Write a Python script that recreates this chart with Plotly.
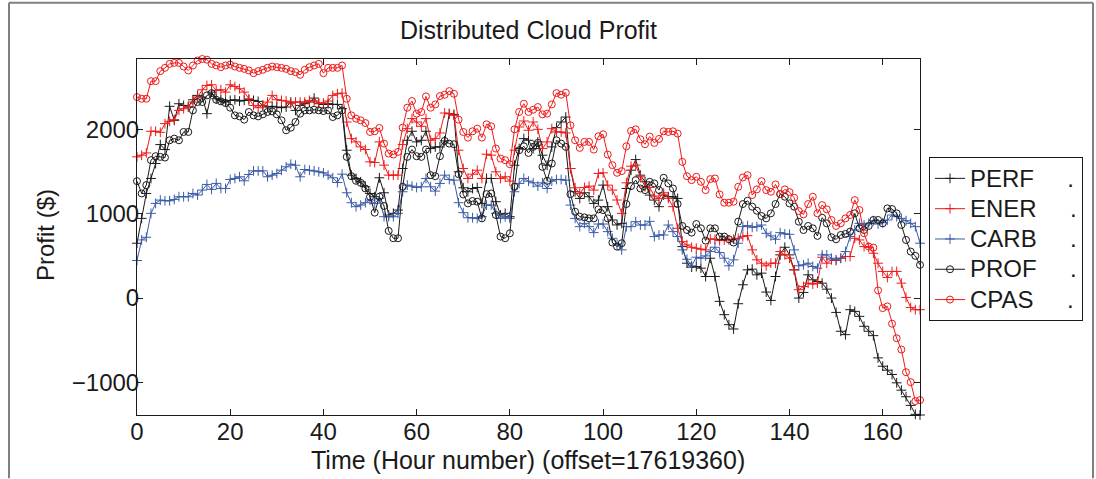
import plotly.graph_objects as go

hours = list(range(169))

perf = [651,946,1242,1420,1597,1822,1763,2276,2110,2307,
        2287,2268,2354,2406,2386,2189,2445,2366,2354,2327,
        2347,2354,2339,2347,2354,2347,2335,2287,2268,2276,
        2268,2260,2268,2327,2228,2287,2307,2327,2374,2307,
        2299,2307,2299,2299,2248,1755,1459,1420,1380,1321,
        1242,1203,1428,1250,986,1006,1045,1538,1873,1980,
        1854,1873,1980,1775,1794,1794,1866,2189,2181,1499,
        1309,1262,1301,1313,1124,1420,1420,1144,986,1006,
        966,1577,1775,1893,1873,1775,1854,1696,1577,1794,
        2023,2090,2149,1538,1262,1183,1250,1203,1124,1163,
        1341,1085,927,868,887,1301,1518,1644,1459,1380,
        1223,1163,1085,1223,1203,1203,1183,611,414,367,
        375,355,256,473,256,-39,-197,-316,-367,-67,
        158,335,343,276,296,71,-28,256,513,603,
        513,335,0,67,276,217,197,177,106,0,
        -170,-394,-434,-138,-158,-217,-335,-394,-446,-710,
        -809,-856,-907,-1006,-1093,-1171,-1274,-1380,-1388]

ener = [1676,1696,1723,1980,1980,1968,2071,2098,2118,2228,
        2248,2276,2327,2386,2473,2524,2532,2465,2473,2445,
        2532,2512,2485,2445,2366,2287,2260,2287,2327,2406,
        2355,2347,2339,2307,2327,2327,2327,2347,2339,2315,
        2315,2339,2406,2425,2433,2090,1893,1854,1795,1763,
        1617,1609,1854,1578,1459,1459,1459,1822,2011,2130,
        2090,2039,2130,1873,1893,1960,2197,2189,2169,1755,
        1538,1420,1471,1518,1420,1708,1696,1499,1420,1440,
        1388,1755,2031,2102,1992,2090,2003,1775,1854,2011,
        1972,1972,1960,1538,1309,1242,1313,1329,1282,1479,
        1487,1341,1282,1164,1006,1368,1565,1578,1440,1321,
        1313,1211,1183,1250,1183,1085,828,670,631,603,
        592,580,572,702,698,682,690,690,698,710,
        730,741,572,454,414,383,414,414,552,513,
        473,335,99,138,177,166,177,485,414,454,
        446,473,493,493,710,690,611,603,532,414,
        316,245,316,316,177,8,-111,-138,-138]

carb = [446,690,722,1006,1124,1163,1155,1155,1171,1203,
        1203,1203,1242,1223,1282,1349,1290,1361,1301,1301,
        1408,1420,1440,1392,1467,1510,1510,1510,1440,1459,
        1479,1518,1558,1589,1577,1440,1526,1518,1510,1499,
        1487,1459,1428,1372,1471,1250,1132,1085,1104,1132,
        1163,1124,1183,966,966,966,1006,1262,1341,1329,
        1313,1321,1420,1321,1270,1361,1459,1408,1400,1132,
        1014,954,954,946,966,1104,1104,1006,946,966,
        946,1262,1361,1420,1388,1368,1329,1368,1301,1388,
        1408,1408,1400,1104,946,848,887,848,777,879,
        879,789,710,639,572,848,848,907,867,867,
        911,730,749,749,867,789,730,572,461,383,
        485,473,501,552,603,540,473,383,454,651,
        848,860,840,848,867,769,738,698,777,761,
        757,572,383,394,414,375,355,513,513,473,
        454,473,552,730,808,887,867,887,919,879,
        895,927,986,966,946,919,887,848,651]

prof = [1388,1242,1341,1637,1684,1676,1668,1873,1893,1873,
        1972,1972,2228,2327,2327,2406,2433,2354,2335,2315,
        2260,2169,2157,2118,2209,2169,2157,2181,2209,2216,
        2181,2110,1992,2023,2090,2189,2228,2228,2236,2228,
        2220,2228,2149,2169,2228,1676,1447,1392,1368,1301,
        1203,1014,1203,1093,797,710,710,1321,1676,1763,
        1684,1676,1763,1459,1447,1684,1866,1834,1826,1471,
        1230,1124,1152,1144,946,1234,1242,986,730,710,
        769,1321,1755,1802,1723,1795,1842,1558,1392,1597,
        1873,1834,1795,1234,1025,966,958,946,946,1053,
        1045,946,659,611,651,1116,1329,1400,1301,1282,
        1380,1361,1282,1428,1361,1301,1116,856,808,777,
        879,828,682,828,828,730,730,698,659,907,
        1116,1155,1085,1037,974,946,1006,1116,1234,1203,
        1124,1085,907,808,856,828,738,954,887,722,
        698,749,761,789,1006,828,808,856,927,927,
        887,1065,1057,1006,868,690,552,501,394]

cpas = [2386,2366,2366,2575,2575,2694,2733,2780,2792,2792,
        2749,2702,2761,2820,2838,2830,2780,2761,2741,2761,
        2772,2749,2733,2721,2702,2670,2694,2710,2733,2749,
        2741,2733,2721,2694,2682,2650,2710,2741,2761,2780,
        2670,2733,2733,2733,2761,2366,2169,2130,2110,2078,
        1972,1980,2019,1834,1716,1704,1735,2023,2260,2339,
        2189,2209,2394,2260,2299,2398,2414,2457,2425,2118,
        1972,1905,1980,2011,1905,2063,2039,1775,1656,1637,
        1589,2003,2209,2307,2209,2236,2268,2181,2189,2299,
        2433,2414,2437,2051,1873,1783,1854,1854,1763,1921,
        1944,1704,1578,1487,1507,1802,1984,2003,1885,1826,
        1917,1842,1889,1980,1972,1980,1952,1617,1447,1400,
        1440,1380,1282,1412,1420,1230,1132,1132,1144,1321,
        1432,1459,1223,1290,1388,1282,1262,1349,1234,1290,
        1258,1191,1033,994,1116,1203,1006,1104,1053,927,
        856,887,946,986,1163,1045,769,611,599,91,
        -119,-99,-304,-477,-611,-880,-998,-1223,-1211]

names = ["PERF", "ENER", "CARB", "PROF", "CPAS"]
series = [perf, ener, carb, prof, cpas]
colors = ["#1a1a1a", "#f01a1a", "#3b5ba8", "#1a1a1a", "#f01a1a"]
symbols = ["cross-thin-open", "cross-thin-open", "cross-thin-open", "circle-open", "circle-open"]

x_ticks = [0, 20, 40, 60, 80, 100, 120, 140, 160]
y_ticks = [-1000, 0, 1000, 2000]

fig = go.Figure()
pad = "\u00a0" * 5
for name, ys, col, sym in zip(names, series, colors, symbols):
    fig.add_trace(go.Scatter(
        x=hours, y=ys, mode="lines+markers",
        name='<span style="font-size:24px">' + name + pad + ".</span>",
        line=dict(color=col, width=1),
        marker=dict(symbol=sym, size=7, color=col, line=dict(color=col, width=1)),
        cliponaxis=False,
    ))

W, H = 1096, 479
L, R, T, B = 137, 176, 58.5, 63.5
pw, ph = W - L - R, H - T - B

def px(xp):
    return (xp - L) / pw

def py(yp):
    return (H - B - yp) / ph

font = "Liberation Sans, Arial, Helvetica, sans-serif"
fig.update_layout(
    width=W, height=H,
    margin=dict(l=L, r=R, t=T, b=B),
    paper_bgcolor="white", plot_bgcolor="white",
    font=dict(family=font, size=24, color="#1a1a1a"),
    showlegend=True,
    legend=dict(
        x=px(929), y=py(157), xanchor="left", yanchor="top",
        bordercolor="#1a1a1a", borderwidth=1, bgcolor="white",
        font=dict(family=font, size=21, color="#1a1a1a"),
        itemwidth=30,
    ),
    xaxis=dict(
        range=[0, 168], tickvals=x_ticks, ticks="inside", ticklen=6,
        tickcolor="#1a1a1a", showline=True, linecolor="#1a1a1a", linewidth=1,
        mirror="ticks", showgrid=False, zeroline=False,
        tickfont=dict(size=24), ticklabelstandoff=-5,
    ),
    yaxis=dict(
        range=[-1388, 2838], tickvals=y_ticks, ticks="inside", ticklen=6,
        tickcolor="#1a1a1a", showline=True, linecolor="#1a1a1a", linewidth=1,
        mirror="ticks", showgrid=False, zeroline=False,
        tickfont=dict(size=24), ticklabelstandoff=-8,
    ),
    annotations=[
        dict(text="Distributed Cloud Profit", x=0.5, y=py(29), xref="paper", yref="paper",
             xanchor="center", yanchor="middle", showarrow=False, font=dict(size=25)),
        dict(text="Time (Hour number) (offset=17619360)", x=px(528), y=py(461), xref="paper", yref="paper",
             xanchor="center", yanchor="middle", showarrow=False, font=dict(size=25)),
        dict(text="Profit ($)", x=px(45), y=py(235), xref="paper", yref="paper",
             xanchor="center", yanchor="middle", showarrow=False, textangle=-90, font=dict(size=24)),
    ],
    shapes=[
        dict(type="line", xref="paper", yref="paper", x0=px(9), x1=px(9), y0=py(2), y1=py(479),
             line=dict(color="#808080", width=2)),
        dict(type="line", xref="paper", yref="paper", x0=px(9), x1=px(1093), y0=py(2), y1=py(2),
             line=dict(color="#808080", width=2)),
        dict(type="line", xref="paper", yref="paper", x0=px(1093), x1=px(1093), y0=py(2), y1=py(479),
             line=dict(color="#808080", width=2)),
    ],
)

fig.write_html("out.html", config={"displayModeBar": False},
               post_script="document.body.style.margin='0px';")
